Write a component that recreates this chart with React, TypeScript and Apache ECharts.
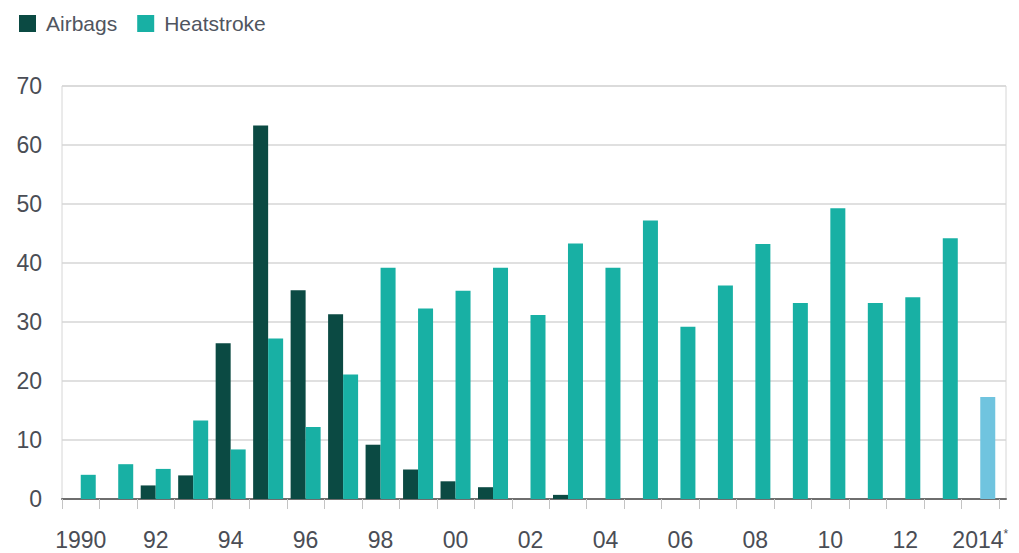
import React, { useEffect, useRef } from "react";
import * as echarts from "echarts";

const categories = [
  "1990", "91", "92", "93", "94", "95", "96", "97", "98", "99",
  "00", "01", "02", "03", "04", "05", "06", "07", "08", "09",
  "10", "11", "12", "13", "2014*",
];

const airbags = [
  0, 0, 2.3, 4.0, 26.4, 63.3, 35.4, 31.3, 9.2, 5.0,
  3.0, 2.0, 0, 0.7, 0, 0, 0, 0, 0, 0,
  0, 0, 0, 0, 0,
];

const heatstroke = [
  4.1, 5.9, 5.1, 13.3, 8.4, 27.2, 12.2, 21.1, 39.2, 32.3,
  35.3, 39.2, 31.2, 43.3, 39.2, 47.2, 29.2, 36.2, 43.2, 33.2,
  49.3, 33.2, 34.2, 44.2, 17.3,
];

const yTicks = { min: 0, max: 70, interval: 10 };

const DARK = "#0b4a43";
const TEAL = "#18b0a4";
const LIGHT = "#70c4df";
const FONT = "'Liberation Sans', Arial, sans-serif";

export default function App() {
  const ref = useRef<HTMLDivElement>(null);

  useEffect(() => {
    document.body.style.margin = "0";
    if (!ref.current) return;
    const chart = echarts.init(ref.current, undefined, { renderer: "svg" });
    const heatData = heatstroke.map((v, i) =>
      i === heatstroke.length - 1 ? { value: v, itemStyle: { color: LIGHT } } : v
    );
    chart.setOption({
      animation: false,
      backgroundColor: "#ffffff",
      textStyle: { fontFamily: FONT },
      legend: {
        left: 14,
        top: 8,
        icon: "rect",
        itemWidth: 17,
        itemHeight: 17,
        itemGap: 20,
        textStyle: {
          fontFamily: FONT,
          fontSize: 21,
          color: "#505560",
          padding: [0, 0, 0, 5],
        },
        data: ["Airbags", "Heatstroke"],
      },
      grid: [
        {
          left: 62,
          top: 86,
          right: 13,
          bottom: 54,
          show: true,
          borderColor: "#d6d6d6",
          borderWidth: 1,
        },
        {
          left: 62,
          top: 86,
          width: 937,
          bottom: 54,
        },
      ],
      xAxis: [
        {
          gridIndex: 0,
          type: "value",
          min: 0,
          max: 1,
          axisLine: { show: true, lineStyle: { color: "#6e6e6e", width: 2 } },
          axisTick: { show: false },
          axisLabel: { show: false },
          splitLine: { show: false },
        },
        {
          gridIndex: 1,
          type: "category",
          data: categories,
          axisLine: { show: false },
          axisTick: {
            show: true,
            interval: 0,
            length: 10,
            lineStyle: { color: "#c4c4c4", width: 1 },
          },
          axisLabel: {
            interval: 1,
            margin: 29,
            fontFamily: FONT,
            fontSize: 23,
            color: "#4a4d55",
            formatter: (v: string) =>
              v.endsWith("*") ? `${v.slice(0, -1)}{sup|*}` : v,
            rich: {
              sup: {
                fontFamily: FONT,
                fontSize: 12,
                color: "#4a4d55",
                verticalAlign: "top",
                padding: [0, 0, 10, 0],
              },
            },
          },
          splitLine: { show: false },
        },
      ],
      yAxis: [
        {
          gridIndex: 0,
          type: "value",
          min: yTicks.min,
          max: yTicks.max,
          interval: yTicks.interval,
          axisLine: { show: false },
          axisTick: { show: false },
          axisLabel: {
            margin: 20,
            fontFamily: FONT,
            fontSize: 23,
            color: "#4a4d55",
          },
          splitLine: { lineStyle: { color: "#d6d6d6", width: 1.5 } },
        },
        {
          gridIndex: 1,
          type: "value",
          min: yTicks.min,
          max: yTicks.max,
          interval: yTicks.interval,
          show: false,
          splitLine: { show: false },
        },
      ],
      series: [
        {
          name: "Airbags",
          type: "bar",
          xAxisIndex: 1,
          yAxisIndex: 1,
          data: airbags,
          barWidth: 15,
          barGap: "0%",
          itemStyle: { color: DARK },
        },
        {
          name: "Heatstroke",
          type: "bar",
          xAxisIndex: 1,
          yAxisIndex: 1,
          data: heatData,
          barWidth: 15,
          barGap: "0%",
          itemStyle: { color: TEAL },
        },
      ],
    });
    return () => chart.dispose();
  }, []);

  return (
    <div
      ref={ref}
      style={{ position: "absolute", left: 0, top: 0, width: 1019, height: 553 }}
    />
  );
}
